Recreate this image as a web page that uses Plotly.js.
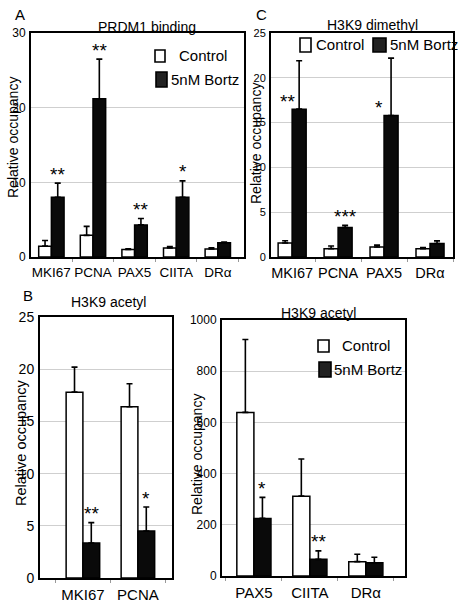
<!DOCTYPE html>
<html>
<head>
<meta charset="utf-8">
<script src="https://cdn.plot.ly/plotly-3.0.1.min.js"></script>
<style>
html,body{margin:0;padding:0;background:#fff;}
#chart{width:458px;height:602px;}
</style>
</head>
<body>
<div id="chart"></div>
<script>
// ---------- data ----------
const seriesNames = ['Control', '5nM Bortz'];

// Panel A: PRDM1 binding
const catsA = ['MKI67', 'PCNA', 'PAX5', 'CIITA', 'DRα'];
const ctrlA = [1.45, 2.9, 1.0, 1.2, 1.07];
const ctrlErrA = [0.75, 1.2, 0.1, 0.2, 0.15];
const bortzA = [8.0, 21.2, 4.3, 8.0, 1.9];
const bortzErrA = [1.9, 5.3, 0.85, 2.2, 0.1];
const sigA = ['**', '**', '**', '*', ''];

// Panel C: H3K9 dimethyl
const catsC = ['MKI67', 'PCNA', 'PAX5', 'DRα'];
const ctrlC = [1.57, 0.93, 1.12, 0.93];
const ctrlErrC = [0.25, 0.3, 0.2, 0.12];
const bortzC = [16.5, 3.28, 15.8, 1.5];
const bortzErrC = [5.4, 0.25, 6.4, 0.3];
const sigC = ['**', '***', '*', ''];

// Panel B (left): H3K9 acetyl
const catsB1 = ['MKI67', 'PCNA'];
const ctrlB1 = [17.8, 16.4];
const ctrlErrB1 = [2.4, 2.2];
const bortzB1 = [3.35, 4.5];
const bortzErrB1 = [1.95, 2.3];
const sigB1 = ['**', '*'];

// Panel B (right): H3K9 acetyl
const catsB2 = ['PAX5', 'CIITA', 'DRα'];
const ctrlB2 = [639, 312, 56];
const ctrlErrB2 = [285, 145, 29];
const bortzB2 = [225, 65, 52];
const bortzErrB2 = [82, 33, 21];
const sigB2 = ['*', '**', ''];

// ---------- layout helpers ----------
const W = 458, H = 602;
const fx = p => p / W;
const fy = p => 1 - p / H;
const FONT = 'Liberation Sans, Arial, sans-serif';
const NARROW = 'Liberation Sans Narrow, Arial Narrow, Liberation Sans, Arial, sans-serif';
const BARGAP = 0.39;

const panels = [
  {id: '', cats: catsA, ctrl: ctrlA, ce: ctrlErrA, bz: bortzA, be: bortzErrA, sig: sigA,
   px: [31, 244], py: [33, 257], xr: [-0.49, 4.63], yr: [0, 30], dt: 10, tickSize: 12, catSize: 13.5},
  {id: '2', cats: catsC, ctrl: ctrlC, ce: ctrlErrC, bz: bortzC, be: bortzErrC, sig: sigC,
   px: [271, 453], py: [33, 257], xr: [-0.46, 3.5], yr: [0, 25], dt: 5, tickSize: 11, catSize: 14.5},
  {id: '3', cats: catsB1, ctrl: ctrlB1, ce: ctrlErrB1, bz: bortzB1, be: bortzErrB1, sig: sigB1,
   px: [40, 172], py: [317, 578], xr: [-0.78, 1.62], yr: [0, 25], dt: 5, tickSize: 14, catSize: 15},
  {id: '4', cats: catsB2, ctrl: ctrlB2, ce: ctrlErrB2, bz: bortzB2, be: bortzErrB2, sig: sigB2,
   px: [222, 405], py: [320, 576], xr: [-0.57, 2.70], yr: [0, 1000], dt: 200, tickSize: 12, catSize: 15}
];

const traces = [];
const layout = {
  width: W, height: H,
  margin: {l: 0, r: 0, t: 0, b: 0},
  paper_bgcolor: '#fff', plot_bgcolor: '#fff',
  barmode: 'group', bargap: BARGAP, bargroupgap: 0,
  showlegend: false,
  font: {family: FONT, color: '#000'},
  annotations: [], shapes: []
};

panels.forEach(p => {
  const xa = 'x' + p.id, ya = 'y' + p.id;
  const common = {type: 'bar', x: p.cats, xaxis: xa, yaxis: ya, showlegend: false};
  traces.push(Object.assign({}, common, {
    name: seriesNames[0], y: p.ctrl,
    marker: {color: '#fff', line: {color: '#000', width: 1.5}},
    error_y: {type: 'data', symmetric: false, array: p.ce, arrayminus: p.ce.map(() => 0),
              color: '#000', thickness: 1.6, width: 3}
  }));
  traces.push(Object.assign({}, common, {
    name: seriesNames[1], y: p.bz,
    marker: {color: '#0a0a0a', line: {color: '#000', width: 1.5}},
    error_y: {type: 'data', symmetric: false, array: p.be, arrayminus: p.be.map(() => 0),
              color: '#000', thickness: 1.6, width: 3}
  }));
  const xKey = 'xaxis' + p.id, yKey = 'yaxis' + p.id;
  layout[xKey] = {
    domain: [fx(p.px[0]), fx(p.px[1])], anchor: ya, type: 'category',
    range: p.xr, fixedrange: true,
    showline: true, mirror: true, linecolor: '#000', linewidth: 2,
    showgrid: false, zeroline: false,
    ticks: 'outside', tickson: 'boundaries', ticklen: 3, tickcolor: '#999', tickwidth: 1,
    tickangle: 0, ticklabelstandoff: 2,
    tickfont: {family: FONT, size: p.catSize, color: '#000'}
  };
  layout[yKey] = {
    domain: [fy(p.py[1]), fy(p.py[0])], anchor: xa,
    range: p.yr, dtick: p.dt, tick0: 0, fixedrange: true,
    showline: true, mirror: true, linecolor: '#000', linewidth: 2,
    showgrid: true, gridcolor: '#cfcfcf', gridwidth: 1, zeroline: false,
    ticks: '', ticklabelstandoff: 1,
    tickfont: {family: NARROW, size: p.tickSize, color: '#000'}
  };
  // significance marks above the Bortz bars
  const catPx = (p.px[1] - p.px[0]) / (p.xr[1] - p.xr[0]);
  const bzOff = (1 - BARGAP) / 4 * catPx;
  p.sig.forEach((s, i) => {
    if (!s) return;
    let y = p.bz[i] + p.be[i], xs = bzOff, ys = 3;
    if (p.id === '2' && (i === 0 || i === 2)) { y = p.bz[i]; xs = bzOff - 12; ys = 2; }
    layout.annotations.push({
      xref: xa, yref: ya, x: p.cats[i], y: y, text: s, showarrow: false,
      xanchor: 'center', yanchor: 'middle', xshift: xs, yshift: ys + 6,
      font: {family: FONT, size: 19, color: '#000'}
    });
  });
});

// text helpers in pixel positions
function txt(text, x, y, size, extra) {
  layout.annotations.push(Object.assign({
    xref: 'paper', yref: 'paper', x: fx(x), y: fy(y), text: text, showarrow: false,
    xanchor: 'center', yanchor: 'middle', font: {family: FONT, size: size, color: '#000'}
  }, extra || {}));
}
// panel letters
txt('A', 20, 14, 15);
txt('C', 261, 15, 15);
txt('B', 28, 295, 15);
// panel titles
txt('PRDM1 binding', 147, 27, 14);
txt('H3K9 dimethyl', 372, 25, 14);
txt('H3K9 acetyl', 108, 302, 14);
txt('H3K9 acetyl', 318, 313, 14);
// y-axis titles
const yTitle = 'Relative occupancy';
txt(yTitle, 13, 138, 14, {textangle: -90});
txt(yTitle, 256, 144, 14, {textangle: -90});
txt(yTitle, 21, 443, 14.5, {textangle: -90});
txt(yTitle, 197, 455, 14, {textangle: -90});

// legends (drawn as keys + labels)
function key(x0, y0, x1, y1, fill) {
  layout.shapes.push({type: 'rect', xref: 'paper', yref: 'paper',
    x0: fx(x0), x1: fx(x1), y0: fy(y1), y1: fy(y0),
    fillcolor: fill, line: {color: '#000', width: 1.6}});
}
// panel A legend
key(155, 50, 165, 62, '#fff'); txt(seriesNames[0], 177, 56, 15, {xanchor: 'left'});
key(156, 72, 167, 87, '#222'); txt(seriesNames[1], 169, 79, 15, {xanchor: 'left'});
// panel C legend
key(300, 38, 311, 52, '#fff'); txt(seriesNames[0], 314, 45, 15, {xanchor: 'left'});
key(373, 38, 386, 52, '#222'); txt(seriesNames[1], 388, 45, 15, {xanchor: 'left'});
// panel B right legend
key(318, 340, 329, 352, '#fff'); txt(seriesNames[0], 340, 345, 15, {xanchor: 'left'});
key(319, 362, 331, 377, '#222'); txt(seriesNames[1], 332, 369, 15, {xanchor: 'left'});

Plotly.newPlot('chart', traces, layout, {staticPlot: true, displayModeBar: false});
</script>
</body>
</html>
